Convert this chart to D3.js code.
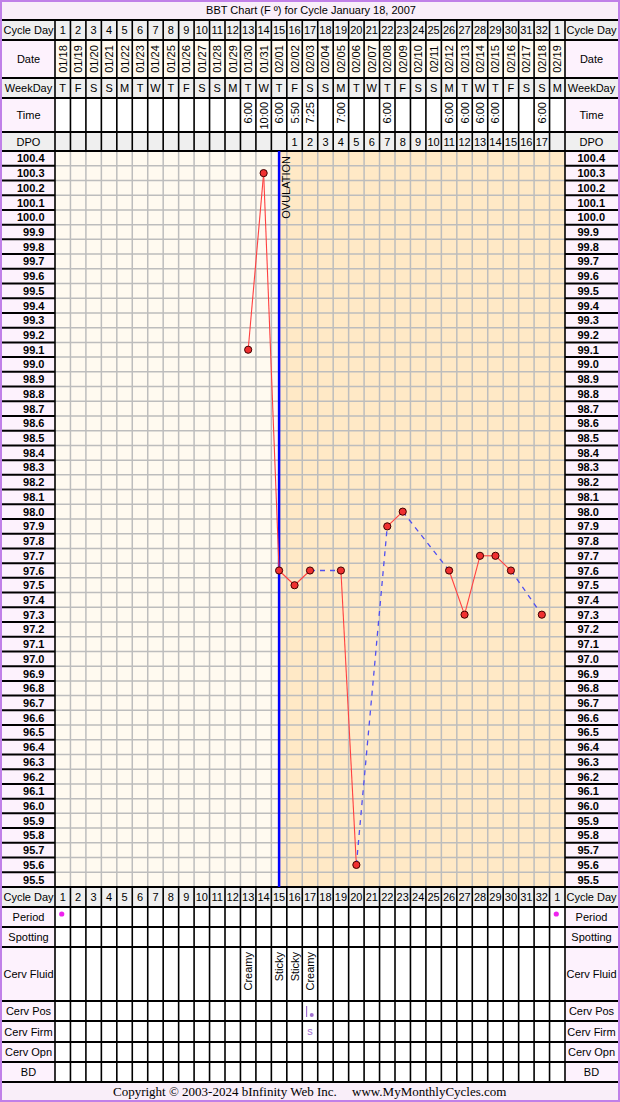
<!DOCTYPE html>
<html><head><meta charset="utf-8">
<script src="https://cdn.jsdelivr.net/npm/d3@7"></script>
<style>
html,body{margin:0;padding:0;background:#fff;}
svg{display:block;font-family:"Liberation Sans",Arial,sans-serif;}
</style></head>
<body>
<script>
// ---------- data ----------
const cycleDays = [1,2,3,4,5,6,7,8,9,10,11,12,13,14,15,16,17,18,19,20,21,22,23,24,25,26,27,28,29,30,31,32,1];
const dates = ["01/18","01/19","01/20","01/21","01/22","01/23","01/24","01/25","01/26","01/27","01/28","01/29","01/30","01/31","02/01","02/02","02/03","02/04","02/05","02/06","02/07","02/08","02/09","02/10","02/11","02/12","02/13","02/14","02/15","02/16","02/17","02/18","02/19"];
const weekdays = ["T","F","S","S","M","T","W","T","F","S","S","M","T","W","T","F","S","S","M","T","W","T","F","S","S","M","T","W","T","F","S","S","M"];
const timeDays = [13,14,15,16,17,19,22,26,27,28,29,32];
const timeLabels = ["6:00","10:00","6:00","5:50","7:25","7:00","6:00","6:00","6:00","6:00","6:00","6:00"];
const dpoDays = [16,17,18,19,20,21,22,23,24,25,26,27,28,29,30,31,32];
const dpoLabels = [1,2,3,4,5,6,7,8,9,10,11,12,13,14,15,16,17];
const tempDays = [13,14,15,16,17,19,20,22,23,26,27,28,29,30,32];
const temps = [99.1,100.3,97.6,97.5,97.6,97.6,95.6,97.9,98.0,97.6,97.3,97.7,97.7,97.6,97.3];
const tempTicks = ["100.4","100.3","100.2","100.1","100.0","99.9","99.8","99.7","99.6","99.5","99.4","99.3","99.2","99.1","99.0","98.9","98.8","98.7","98.6","98.5","98.4","98.3","98.2","98.1","98.0","97.9","97.8","97.7","97.6","97.5","97.4","97.3","97.2","97.1","97.0","96.9","96.8","96.7","96.6","96.5","96.4","96.3","96.2","96.1","96.0","95.9","95.8","95.7","95.6","95.5"];
const periodDays = [1,33];
const fluidDays = [13,15,16,17];
const fluidLabels = ["Creamy","Sticky","Sticky","Creamy"];
const cervPosDays = [17];
const cervFirmDays = [17];
const cervFirmLabels = ["s"];
const ovulationDay = 15;
const title = "BBT Chart (F º) for Cycle January 18, 2007";

// ---------- layout ----------
const W = 620, H = 1102;
const X0 = 55, X1 = 565, RX = 618, LX = 2;
const chartTop = 151, chartBot = 887;
const headRows = [
  {name:"Cycle Day", y0:20, y1:40, lab:"#efefef", cell:"#efefef"},
  {name:"Date", y0:40, y1:78, lab:"#fdf2fd", cell:"#fffaf0"},
  {name:"WeekDay", y0:78, y1:98, lab:"#efefef", cell:"#efefef"},
  {name:"Time", y0:98, y1:132, lab:"#fdf2fd", cell:"#ffffff"},
  {name:"DPO", y0:132, y1:151, lab:"#efefef", cell:"#efefef"}
];
const footRows = [
  {name:"Cycle Day", y0:887, y1:907, lab:"#efefef", cell:"#efefef"},
  {name:"Period", y0:907, y1:927, lab:"#fdf2fd", cell:"#ffffff"},
  {name:"Spotting", y0:927, y1:947, lab:"#fdf2fd", cell:"#ffffff"},
  {name:"Cerv Fluid", y0:947, y1:1001, lab:"#fdf2fd", cell:"#ffffff"},
  {name:"Cerv Pos", y0:1001, y1:1021, lab:"#fdf2fd", cell:"#ffffff"},
  {name:"Cerv Firm", y0:1021, y1:1042, lab:"#fdf2fd", cell:"#ffffff"},
  {name:"Cerv Opn", y0:1042, y1:1062, lab:"#fdf2fd", cell:"#ffffff"},
  {name:"BD", y0:1062, y1:1082, lab:"#fdf2fd", cell:"#ffffff"}
];

const cols = d3.range(1, cycleDays.length + 1);
const x = d3.scaleBand().domain(cols).range([X0, X1]).padding(0);
const bw = x.bandwidth();
const cx = d => x(d) + bw / 2;
const y = d3.scaleLinear().domain([95.5, 100.4]).range([879.6, 158.4]);
const rowH = (879.6 - 158.4) / 49;

const svg = d3.select("body").append("svg").attr("width", W).attr("height", H);

// background
svg.append("rect").attr("x",0).attr("y",0).attr("width",W).attr("height",H).attr("fill","#fff");
svg.append("rect").attr("x",1).attr("y",1).attr("width",W-2).attr("height",20).attr("fill","#f9eef9");
svg.append("rect").attr("x",1).attr("y",1082).attr("width",W-2).attr("height",19).attr("fill","#f9eef9");
svg.append("text").attr("x",311).attr("y",14).attr("text-anchor","middle").attr("font-size",11).attr("fill","#000").text(title);

// generic row drawing
function drawRows(rows) {
  rows.forEach(r => {
    const h = r.y1 - r.y0;
    svg.append("rect").attr("x",LX).attr("y",r.y0).attr("width",X0-LX).attr("height",h).attr("fill",r.lab);
    svg.append("rect").attr("x",X1).attr("y",r.y0).attr("width",RX-X1).attr("height",h).attr("fill",r.lab);
    svg.append("rect").attr("x",X0).attr("y",r.y0).attr("width",X1-X0).attr("height",h).attr("fill",r.cell);
    [ (LX+X0)/2, (X1+RX)/2 ].forEach(px => {
      svg.append("text").attr("x",px).attr("y",(r.y0+r.y1)/2+4).attr("text-anchor","middle")
        .attr("font-size",11).attr("fill","#000").text(r.name);
    });
  });
}
drawRows(headRows);
drawRows(footRows);

// chart area backgrounds
svg.append("rect").attr("x",X0).attr("y",chartTop).attr("width",cx(ovulationDay)-X0).attr("height",chartBot-chartTop).attr("fill","#fffaf0");
svg.append("rect").attr("x",cx(ovulationDay)).attr("y",chartTop).attr("width",X1-cx(ovulationDay)).attr("height",chartBot-chartTop).attr("fill","#ffe9c6");
svg.append("rect").attr("x",LX).attr("y",chartTop).attr("width",X0-LX).attr("height",chartBot-chartTop).attr("fill","#fdf2fd");
svg.append("rect").attr("x",X1).attr("y",chartTop).attr("width",RX-X1).attr("height",chartBot-chartTop).attr("fill","#fdf2fd");

// grid lines in chart
const grid = svg.append("g").attr("stroke","#bdbdbd").attr("stroke-width",1.5);
cols.slice(1).forEach(d => grid.append("line").attr("x1",x(d)).attr("x2",x(d)).attr("y1",chartTop).attr("y2",chartBot));
tempTicks.forEach((t,i) => {
  if (i === tempTicks.length - 1) return;
  const yy = y(+t) + rowH/2;
  grid.append("line").attr("x1",X0).attr("x2",X1).attr("y1",yy).attr("y2",yy);
});
// black borders of temp label cells
const tl = svg.append("g").attr("stroke","#000").attr("stroke-width",2);
tempTicks.forEach((t,i) => {
  if (i === tempTicks.length - 1) return;
  const yy = y(+t) + rowH/2;
  tl.append("line").attr("x1",LX).attr("x2",X0).attr("y1",yy).attr("y2",yy);
  tl.append("line").attr("x1",X1).attr("x2",RX).attr("y1",yy).attr("y2",yy);
});
// temp labels
tempTicks.forEach(t => {
  svg.append("text").attr("x",44.5).attr("y",y(+t)+4).attr("text-anchor","end").attr("font-size",11).attr("font-weight","bold").text(t);
  svg.append("text").attr("x",577.5).attr("y",y(+t)+4).attr("text-anchor","start").attr("font-size",11).attr("font-weight","bold").text(t);
});

// table vertical lines (header + footer)
const vl = svg.append("g").attr("stroke","#000").attr("stroke-width",1.6);
[[20,151],[887,1082]].forEach(([a,b]) => {
  cols.forEach(d => vl.append("line").attr("x1",x(d)).attr("x2",x(d)).attr("y1",a).attr("y2",b));
  vl.append("line").attr("x1",X1).attr("x2",X1).attr("y1",a).attr("y2",b);
});
vl.append("line").attr("x1",X0).attr("x2",X0).attr("y1",chartTop).attr("y2",chartBot);
vl.append("line").attr("x1",X1).attr("x2",X1).attr("y1",chartTop).attr("y2",chartBot);

// horizontal row lines
const hl = svg.append("g").attr("stroke","#000").attr("stroke-width",2);
const hys = [20,40,78,98,132,151,887,907,927,947,1001,1021,1042,1062,1082];
hys.forEach(yy => hl.append("line").attr("x1",LX).attr("x2",RX).attr("y1",yy).attr("y2",yy));

// header texts
const fs = 11;
cols.forEach((d,i) => {
  svg.append("text").attr("x",cx(d)).attr("y",34).attr("text-anchor","middle").attr("font-size",fs).text(cycleDays[i]);
  svg.append("text").attr("x",cx(d)).attr("y",901).attr("text-anchor","middle").attr("font-size",fs).text(cycleDays[i]);
  svg.append("text").attr("transform",`translate(${cx(d)+4},59) rotate(-90)`).attr("text-anchor","middle").attr("font-size",fs).text(dates[i]);
  svg.append("text").attr("x",cx(d)).attr("y",92).attr("text-anchor","middle").attr("font-size",fs).text(weekdays[i]);
});
timeDays.forEach((d,i) => {
  svg.append("text").attr("transform",`translate(${cx(d)+4},102) rotate(-90)`).attr("text-anchor","end").attr("font-size",fs).text(timeLabels[i]);
});
dpoDays.forEach((d,i) => {
  svg.append("text").attr("x",cx(d)).attr("y",146).attr("text-anchor","middle").attr("font-size",fs).text(dpoLabels[i]);
});

// footer texts
periodDays.forEach(d => svg.append("circle").attr("cx",cx(d)-1).attr("cy",914).attr("r",2.6).attr("fill","#ee22ee"));
fluidDays.forEach((d,i) => {
  svg.append("text").attr("transform",`translate(${cx(d)+4},952) rotate(-90)`).attr("text-anchor","end").attr("font-size",fs).text(fluidLabels[i]);
});
cervPosDays.forEach(d => {
  svg.append("line").attr("x1",x(d)+4.3).attr("x2",x(d)+4.3).attr("y1",1006).attr("y2",1017).attr("stroke","#a070d0").attr("stroke-width",1.2);
  svg.append("circle").attr("cx",x(d)+9.5).attr("cy",1015).attr("r",2).attr("fill","#a070d0");
});
cervFirmDays.forEach((d,i) => {
  svg.append("text").attr("x",cx(d)).attr("y",1035).attr("text-anchor","middle").attr("font-size",fs).attr("fill","#a070d0").text(cervFirmLabels[i]);
});

// ovulation line
svg.append("line").attr("x1",cx(ovulationDay)).attr("x2",cx(ovulationDay)).attr("y1",chartTop).attr("y2",chartBot).attr("stroke","#0000ff").attr("stroke-width",2.5);
svg.append("text").attr("transform",`translate(${cx(ovulationDay)+11},156) rotate(-90)`).attr("text-anchor","end").attr("font-size",fs).text("OVULATION");

// temperature lines
const pts = tempDays.map((d,i) => ({d, t: temps[i]}));
for (let i = 1; i < pts.length; i++) {
  const a = pts[i-1], b = pts[i];
  const ln = svg.append("line").attr("x1",cx(a.d)).attr("y1",y(a.t)).attr("x2",cx(b.d)).attr("y2",y(b.t));
  if (b.d - a.d === 1) ln.attr("stroke","#ff4040").attr("stroke-width",1.1);
  else ln.attr("stroke","#5050f0").attr("stroke-width",1.3).attr("stroke-dasharray","5,5");
}
svg.selectAll("circle.pt").data(pts).enter().append("circle").attr("class","pt")
  .attr("cx",d => cx(d.d)).attr("cy",d => y(d.t)).attr("r",3.6)
  .attr("fill","#f03030").attr("stroke","#400000").attr("stroke-width",1);

// copyright
svg.append("text").attr("x",113).attr("y",1096).attr("font-family","'Liberation Serif','Times New Roman',serif").attr("font-size",13).text("Copyright © 2003-2024 bInfinity Web Inc.");
svg.append("text").attr("x",352).attr("y",1096).attr("font-family","'Liberation Serif','Times New Roman',serif").attr("font-size",13).text("www.MyMonthlyCycles.com");

// outer border
svg.append("rect").attr("x",1).attr("y",1).attr("width",W-2).attr("height",H-2).attr("fill","none").attr("stroke","#c080e8").attr("stroke-width",2);
</script>
</body></html>
